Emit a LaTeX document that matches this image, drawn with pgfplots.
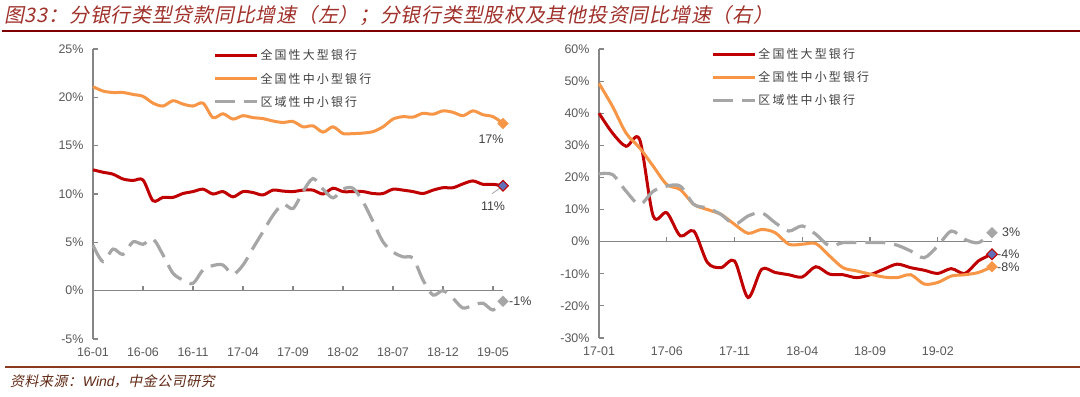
\documentclass[border=0pt]{standalone}
\usepackage{pgfplots}
\pgfplotsset{compat=1.18}
\usepackage{fontspec}
\setmainfont{Liberation Sans}
\newfontfamily\cjk{Noto Sans CJK SC}
\newfontfamily\cjkleg[LetterSpace=18]{Noto Sans CJK SC}
\newfontfamily\cjkit[FakeSlant=0.2,LetterSpace=4]{Noto Sans CJK SC}
\newfontfamily\sansit[FakeSlant=0.2]{Liberation Sans}
\definecolor{cred}{HTML}{C00000}
\definecolor{corange}{HTML}{F79646}
\definecolor{cgrey}{HTML}{A6A6A6}
\definecolor{axisgray}{HTML}{868686}
\definecolor{ticktext}{HTML}{595959}
\definecolor{legtext}{HTML}{404040}
\definecolor{titlered}{HTML}{A0302A}
\definecolor{linered}{HTML}{7F0000}
\definecolor{footbrown}{HTML}{8B3A1E}
\definecolor{markblue}{HTML}{6070B8}
\pgfplotsset{myax/.style={
  scale only axis, clip=false,
  axis lines*=left,
  axis line style={draw=axisgray, line width=1.2bp, -},
  x axis line style={draw=none},
  xtick style={draw=none},
  ytick style={draw=axisgray, line width=1.2bp},
  tick align=inside, major tick length=5bp,
  tick label style={font=\fontsize{12.5}{14}\selectfont, text=ticktext},
  xticklabel style={yshift=-5bp},
  yticklabel style={xshift=-6bp},
  /pgf/number format/assume math mode=true,
  yticklabel={\pgfmathprintnumber{\tick}\%},
  legend style={draw=none, fill=none, anchor=north west,
    font=\cjkleg\fontsize{12}{14}\selectfont, text=legtext,
    row sep=7.5bp, inner sep=0pt, legend cell align=left},
  legend image code/.code={\draw[##1] (0bp,0bp) -- (42bp,0bp);},
}}
\pgfplotsset{
  sred/.style={cred, line width=3bp, smooth},
  sorange/.style={corange, line width=3bp, smooth},
  sgrey/.style={cgrey, line width=3.2bp, dash pattern=on 20bp off 9bp, smooth},
  endmark/.style={only marks, mark=square*, mark size=3.8bp, forget plot},
}
\begin{document}
\begin{tikzpicture}[x=1bp,y=1bp]
\useasboundingbox (0bp,0bp) rectangle (1080bp,397bp);
\fill[white] (0bp,0bp) rectangle (1080bp,397bp);
% title
\node[anchor=base west, inner sep=0pt, text=titlered, font=\cjkit\fontsize{20}{22}\selectfont] at (4bp,374bp) {图33：分银行类型贷款同比增速（左）；分银行类型股权及其他投资同比增速（右）};
\draw[linered, line width=2.5bp] (2bp,366bp) -- (1080bp,366bp);
% footer
\draw[footbrown, line width=2.5bp] (5bp,30bp) -- (1080bp,30bp);
\node[anchor=base west, inner sep=0pt, text=footbrown!70!black, font=\cjkit\fontsize{14}{16}\selectfont] at (10bp,11bp) {资料来源：{\sansit Wind}，中金公司研究};

% ---------------- left axis ----------------
\begin{scope}
\begin{axis}[myax, at={(93bp,58bp)}, anchor=south west, width=410bp, height=290bp,
  xmin=0, xmax=41, ymin=-5, ymax=25,
  ytick={-5,0,5,10,15,20,25},
  xtick={0,5,10,15,20,25,30,35,40},
  xticklabels={16-01,16-06,16-11,17-04,17-09,18-02,18-07,18-12,19-05},
  legend style={at={(axis description cs:0.293,1.005)}},
]
\draw[axisgray, line width=1.2bp] (axis cs:0,0) -- (axis cs:41,0);
\pgfplotsinvokeforeach{5,10,15,20,25,30,35,40}{\draw[axisgray, line width=1.2bp] (axis cs:#1,0) -- ++(0bp,5bp);}
\addplot[sred] coordinates {(0,12.5)(1,12.25)(2,12.05)(3,11.55)(4,11.4)(5,11.45)(6,9.3)(7,9.65)(8,9.65)(9,10.05)(10,10.25)(11,10.5)(12,10.0)(13,10.25)(14,9.7)(15,10.25)(16,10.15)(17,9.9)(18,10.4)(19,10.3)(20,10.25)(21,10.4)(22,10.4)(23,10.0)(24,10.6)(25,10.25)(26,10.25)(27,10.25)(28,10.05)(29,10.05)(30,10.5)(31,10.4)(32,10.25)(33,10.05)(34,10.4)(35,10.65)(36,10.65)(37,11.05)(38,11.35)(39,11.0)(40,11.0)(41,10.85)};
\addlegendentry{全国性大型银行}
\addplot[sorange] coordinates {(0,21.1)(1,20.65)(2,20.5)(3,20.5)(4,20.3)(5,20.1)(6,19.4)(7,19.1)(8,19.65)(9,19.3)(10,19.1)(11,19.4)(12,17.9)(13,18.3)(14,17.75)(15,18.1)(16,17.9)(17,17.8)(18,17.55)(19,17.4)(20,17.5)(21,16.95)(22,17.05)(23,16.4)(24,16.95)(25,16.25)(26,16.25)(27,16.3)(28,16.45)(29,16.95)(30,17.75)(31,18.0)(32,17.95)(33,18.35)(34,18.25)(35,18.6)(36,18.45)(37,18.1)(38,18.6)(39,18.2)(40,18.0)(41,17.3)};
\addlegendentry{全国性中小型银行}
\addplot[sgrey] coordinates {(0,4.7)(1,3.0)(2,4.3)(3,3.75)(4,5.05)(5,4.8)(6,5.35)(7,3.7)(8,1.8)(9,1.1)(10,0.75)(11,2.15)(12,2.6)(13,2.65)(14,1.7)(15,2.65)(16,4.4)(17,6.1)(18,7.8)(19,8.95)(20,8.5)(21,10.25)(22,11.6)(23,10.5)(24,9.6)(25,10.5)(26,10.6)(27,9.2)(28,7.15)(29,5.05)(30,4.0)(31,3.5)(32,3.35)(33,1.1)(34,-0.45)(35,0)(36,-0.8)(37,-1.8)(38,-1.5)(39,-1.3)(40,-2.0)(41,-1.1)};
\addlegendentry{区域性中小银行}
\addplot[endmark, mark options={fill=corange, draw=corange, rotate=45}] coordinates {(41,17.3)};
\addplot[endmark, mark options={fill=markblue, draw=cred, line width=1bp, rotate=45}] coordinates {(41,10.85)};
\addplot[endmark, mark options={fill=cgrey, draw=cgrey, rotate=45}] coordinates {(41,-1.1)};
\draw[cgrey, line width=0.8bp] (axis cs:41,10.85) -- ++(-11bp,-8bp);
\node[font=\fontsize{12.5}{14}\selectfont, text=legtext, xshift=-12bp, yshift=-16bp] at (axis cs:41,17.3) {17\%};
\node[font=\fontsize{12.5}{14}\selectfont, text=legtext, xshift=-10bp, yshift=-20bp] at (axis cs:41,10.85) {11\%};
\node[font=\fontsize{12.5}{14}\selectfont, text=legtext, anchor=west, inner sep=0pt, xshift=6bp] at (axis cs:41,-1.1) {-1\%};
\end{axis}
\end{scope}

% ---------------- right axis ----------------
\begin{scope}
\begin{axis}[myax, at={(599bp,59bp)}, anchor=south west, width=393bp, height=289bp,
  xmin=0, xmax=29, ymin=-30, ymax=60,
  ytick={-30,-20,-10,0,10,20,30,40,50,60},
  xtick={0,5,10,15,20,25},
  xticklabels={17-01,17-06,17-11,18-04,18-09,19-02},
  legend style={at={(axis description cs:0.285,1.01)}},
]
\draw[axisgray, line width=1.2bp] (axis cs:0,0) -- (axis cs:29,0);
\pgfplotsinvokeforeach{5,10,15,20,25}{\draw[axisgray, line width=1.2bp] (axis cs:#1,0) -- ++(0bp,5bp);}
\addplot[sred] coordinates {(0,40.0)(1,33.8)(2,29.7)(3,31.8)(4,8)(5,9)(6,1.8)(7,3.3)(8,-6.5)(9,-8.1)(10,-6.0)(11,-17.4)(12,-8.6)(13,-9.6)(14,-10.3)(15,-11)(16,-7.8)(17,-10.1)(18,-10.3)(19,-11.2)(20,-10.3)(21,-8.6)(22,-7.0)(23,-8.1)(24,-8.9)(25,-9.9)(26,-8.4)(27,-9.9)(28,-6.0)(29,-3.9)};
\addlegendentry{全国性大型银行}
\addplot[sorange] coordinates {(0,49.3)(1,42.1)(2,33.8)(3,29.2)(4,23.5)(5,17.8)(6,16.2)(7,11.6)(8,10.0)(9,8.5)(10,5.4)(11,2.6)(12,3.8)(13,2.8)(14,-0.8)(15,-0.8)(16,-0.6)(17,-4.4)(18,-8.1)(19,-9.1)(20,-10.1)(21,-11)(22,-11.2)(23,-10.3)(24,-13.2)(25,-12.7)(26,-10.7)(27,-10.3)(28,-9.6)(29,-7.8)};
\addlegendentry{全国性中小型银行}
\addplot[sgrey] coordinates {(0,21.1)(1,20.9)(2,15.7)(3,11.6)(4,15.7)(5,17.3)(6,17.3)(7,11.6)(8,10.5)(9,8.5)(10,5.4)(11,8)(12,9.0)(13,5.9)(14,3.3)(15,4.9)(16,2.3)(17,-1.3)(18,-0.3)(19,-0.3)(20,-0.3)(21,-0.3)(22,-1.1)(23,-2.9)(24,-5.0)(25,-1.3)(26,3.3)(27,0.7)(28,-0.3)(29,2.8)};
\addlegendentry{区域性中小银行}
\addplot[endmark, mark options={fill=cgrey, draw=cgrey, rotate=45}] coordinates {(29,2.8)};
\addplot[endmark, mark options={fill=markblue, draw=cred, line width=1bp, rotate=45}] coordinates {(29,-3.9)};
\addplot[endmark, mark options={fill=corange, draw=corange, rotate=45}] coordinates {(29,-7.8)};
\node[font=\fontsize{12.5}{14}\selectfont, text=legtext, anchor=west, inner sep=0pt, xshift=10bp] at (axis cs:29,2.8) {3\%};
\node[font=\fontsize{12.5}{14}\selectfont, text=legtext, anchor=west, inner sep=0pt, xshift=5bp] at (axis cs:29,-3.9) {-4\%};
\node[font=\fontsize{12.5}{14}\selectfont, text=legtext, anchor=west, inner sep=0pt, xshift=5bp] at (axis cs:29,-7.8) {-8\%};
\end{axis}
\end{scope}
\end{tikzpicture}
\end{document}
